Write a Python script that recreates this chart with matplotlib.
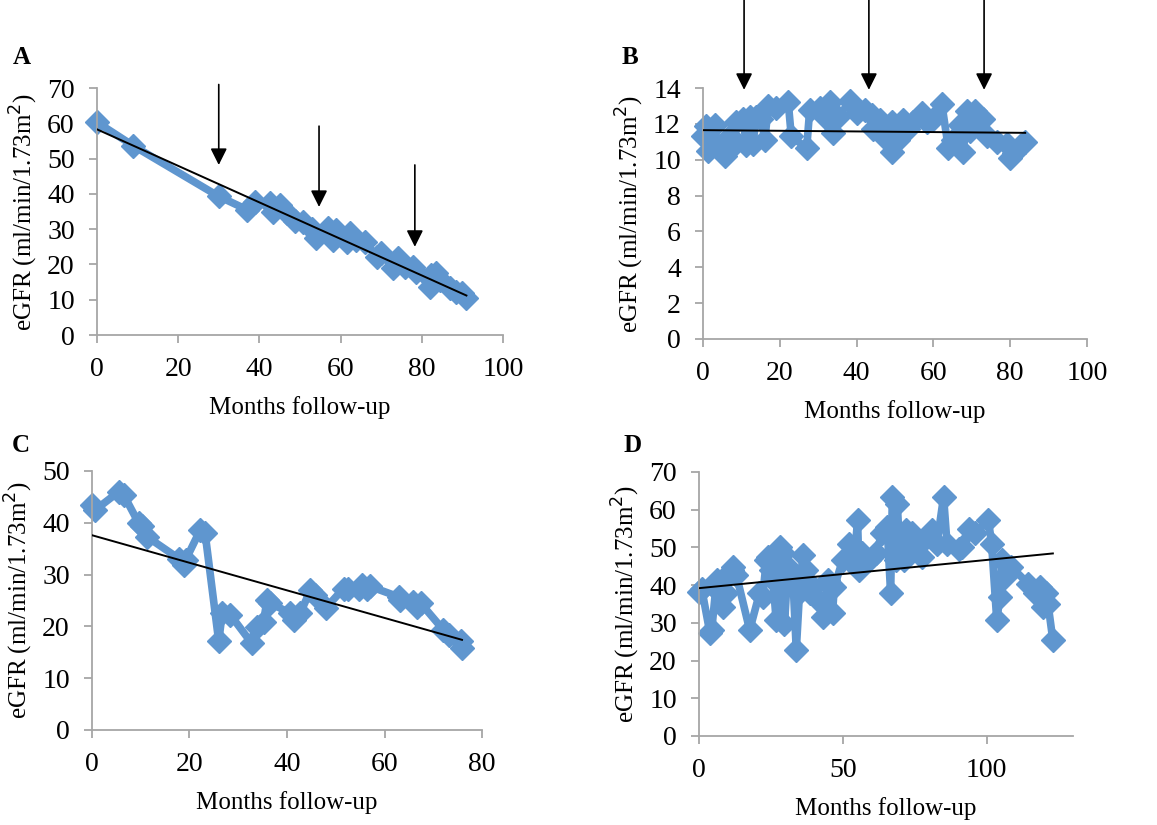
import numpy as np
import matplotlib.pyplot as plt

plt.rcParams['font.family'] = ['Liberation Serif', 'DejaVu Serif']

# panel A
months_a = [0, 9, 30, 37, 39, 42.6, 43.4, 45, 46.7, 48.8, 50.8, 52.9, 54, 57, 58.2, 59,
            61.5, 62.3, 63.9, 66, 68.9, 70, 73, 74.2, 75.8, 77.9, 78.7, 82, 82.4, 83.6,
            84.4, 86.9, 88.5, 89.8, 91]
egfr_a = [60.3, 53.6, 39.3, 35.5, 37.8, 37.4, 35, 36.9, 34.5, 32.2, 32, 30, 27.5, 30.3, 27,
          29.8, 26.5, 28.9, 27, 26.5, 22.2, 23.2, 19, 21.8, 19.4, 19.4, 18, 13.7, 17, 17.5,
          15.6, 13.2, 12.3, 11.8, 10.4]
trend_a = [58.3, 11.2]
arrows_a = [(30, 71, 48.2), (54.7, 59.2, 36.3), (78.3, 48.2, 25)]

# panel B
months_b = [0, 0.9, 1.3, 3, 3.9, 5.7, 7, 7.8, 8.7, 10.4, 11.3, 12.2, 13, 13.9, 15.2, 16.1,
            17, 19.1, 22.2, 23, 27, 27.8, 30.4, 31.7, 33, 33.9, 35.2, 38.3, 40, 42.2, 43.9,
            44.3, 46.1, 47, 49.1, 49.1, 50.9, 52.2, 53.5, 54.8, 57, 58.3, 60, 62.2, 63.9,
            65, 67, 67.8, 68.7, 69.6, 70.9, 72, 73, 73.9, 76.5, 79.1, 80, 80.9, 82.6, 83.9]
egfr_b = [11.3, 11.9, 10.5, 11.95, 10.65, 10.2, 11.3, 10.75, 12.1, 12.3, 10.8, 12.4, 10.9,
          12.4, 12.3, 11.1, 13, 12.9, 13.2, 11.3, 10.65, 12.8, 12.9, 12.4, 13.2, 11.5, 12.4,
          13.25, 12.6, 12.8, 12.5, 11.7, 12.2, 11.3, 12.1, 10.45, 11.1, 12.2, 11.7, 12.1,
          12.6, 12.1, 12.3, 13.1, 10.65, 11.1, 11.95, 10.45, 12.7, 11.6, 12.7, 12.4, 12.3,
          11.3, 11.0, 10.9, 10.1, 10.4, 10.75, 11.0]
trend_b = [11.65, 11.5]
arrows_b = [(10.7, 18.9, 13.9), (43.2, 18.9, 13.9), (73.2, 18.9, 13.9)]

# panel C
months_c = [0, 0.7, 5.5, 6.5, 9.6, 10.3, 11.3, 17.8, 18.8, 19.2, 22.2, 23.2, 26, 26.7,
            28.4, 32.8, 33.8, 35.2, 35.9, 36.6, 40.7, 41.4, 42.7, 44.8, 45.8, 47.9, 51.6,
            52.6, 54.7, 55.4, 56.4, 57.1, 62.9, 63.2, 65.9, 66.7, 67.4, 72.1, 73.2, 75.6, 75.9]
egfr_c = [43.4, 42.5, 46, 45.4, 39.9, 39.3, 37.3, 33.1, 31.9, 32.8, 38.6, 38, 17.1, 22.5,
          22.2, 16.7, 19.9, 20.9, 25.1, 24.5, 22.5, 21.2, 22.5, 27, 26.1, 23.5, 27.3, 27.3,
          27.3, 28, 27.3, 27.7, 25.7, 25.1, 24.8, 23.8, 24.5, 19.3, 18.3, 17.1, 15.8]
trend_c = [37.6, 17.4]

# panel D
months_d = [0, 0.9, 3.8, 4.4, 6.1, 7.3, 8.4, 9.5, 11.3, 11.9, 13, 17.6, 21, 22.1, 23.4,
            24, 25.1, 25.7, 26.8, 28, 29.1, 29.7, 30.9, 32.6, 33.8, 34.9, 36.1, 37.2, 38.4,
            39.5, 41.2, 43, 44.7, 46.4, 47, 49.9, 52.2, 53.9, 55.1, 55.6, 56.8, 59.1, 61.4,
            63.7, 65.4, 66.6, 67.2, 68.3, 68.9, 69.5, 70.6, 71.2, 71.8, 73, 74.1, 75.2,
            77.5, 79.3, 81, 82.7, 85, 86.2, 90.2, 91.4, 93.7, 96, 100.6, 101.7, 103.5,
            104.6, 105.2, 106.3, 108.6, 114.4, 116.7, 118.4, 119.6, 120.7, 121.3, 123]
egfr_d = [38.2, 39.1, 27.2, 28.1, 41.3, 37.8, 34.2, 37.8, 44, 44.8, 42.6, 28.1, 37.8, 36.9,
          46.6, 47.5, 44, 41.3, 30.7, 50.1, 48.4, 29.8, 44.8, 42.2, 22.8, 37.8, 47.9, 44,
          37.8, 39.5, 36, 31.6, 41.3, 32.5, 39.5, 46.6, 51, 45.7, 57.2, 44, 48.4, 46.6,
          48.4, 53.7, 55.4, 37.8, 63.4, 46.6, 61.6, 53, 51, 46.6, 54.5, 49.2, 53.7, 52,
          47.5, 52.8, 54.5, 51, 63.4, 51, 49.7, 50.1, 55, 53.7, 57.2, 51, 30.7, 36.9, 46.6,
          42.2, 44.8, 40.4, 37.8, 39.5, 34.2, 37.8, 35.1, 25.4]
trend_d = [39.2, 48.4]

line_col = '#5F96CF'
axis_col = '#A6A6A6'
ylab = 'eGFR (ml/min/1.73m$^{2}$)'

fig = plt.figure(figsize=(11.57, 8.25), dpi=100)


def panel(rect, x, y, trend, xlim, ylim, xticks, yticks, letter, letter_xy, arrows=()):
    ax = fig.add_axes(rect)
    ax.plot(x, y, color=line_col, lw=5.5, marker='D', ms=12, mec=line_col, mfc=line_col,
            solid_joinstyle='round', clip_on=False, zorder=2)
    ax.plot([x[0], x[-1]], trend, color='black', lw=1.4, zorder=3)
    ax.set_xlim(*xlim)
    ax.set_ylim(*ylim)
    ax.set_xticks(xticks)
    ax.set_yticks(yticks)
    for s in ['top', 'right']:
        ax.spines[s].set_visible(False)
    for s in ['left', 'bottom']:
        ax.spines[s].set_color(axis_col)
        ax.spines[s].set_linewidth(1.3)
    ax.tick_params(axis='both', colors=axis_col, labelcolor='black', length=6,
                   width=1.3, labelsize=20)
    ax.tick_params(axis='x', pad=10)
    ax.tick_params(axis='y', pad=10)
    ax.set_xlabel('Months follow-up', fontsize=18, labelpad=10)
    ax.set_ylabel(ylab, fontsize=18, labelpad=5)
    fig.text(letter_xy[0], letter_xy[1], letter, fontsize=18, fontweight='bold',
             ha='center', va='center')
    for ax_x, y0, y1 in arrows:
        ax.annotate('', xy=(ax_x, y1), xytext=(ax_x, y0), annotation_clip=False,
                    arrowprops=dict(arrowstyle='-|>', mutation_scale=25, color='black',
                                    lw=1.2, shrinkA=0, shrinkB=0))
    return ax


panel([0.0838, 0.5939, 0.3509, 0.2994], months_a, egfr_a, trend_a, (0, 100), (0, 70),
      range(0, 101, 20), range(0, 71, 10), 'A', (22 / 1157, 1 - 58 / 825), arrows_a)
panel([0.6076, 0.5891, 0.3319, 0.3042], months_b, egfr_b, trend_b, (0, 100), (0, 14),
      range(0, 101, 20), range(0, 15, 2), 'B', (630 / 1157, 1 - 58 / 825), arrows_b)
panel([0.0795, 0.1152, 0.3371, 0.3139], months_c, egfr_c, trend_c, (0, 80), (0, 50),
      range(0, 81, 20), range(0, 51, 10), 'C', (21 / 1157, 1 - 445 / 825))
panel([0.6042, 0.1079, 0.3232, 0.3200], months_d, egfr_d, trend_d, (0, 130), (0, 70),
      [0, 50, 100], range(0, 71, 10), 'D', (633 / 1157, 1 - 445 / 825))

fig.savefig('out.png', dpi=100)
